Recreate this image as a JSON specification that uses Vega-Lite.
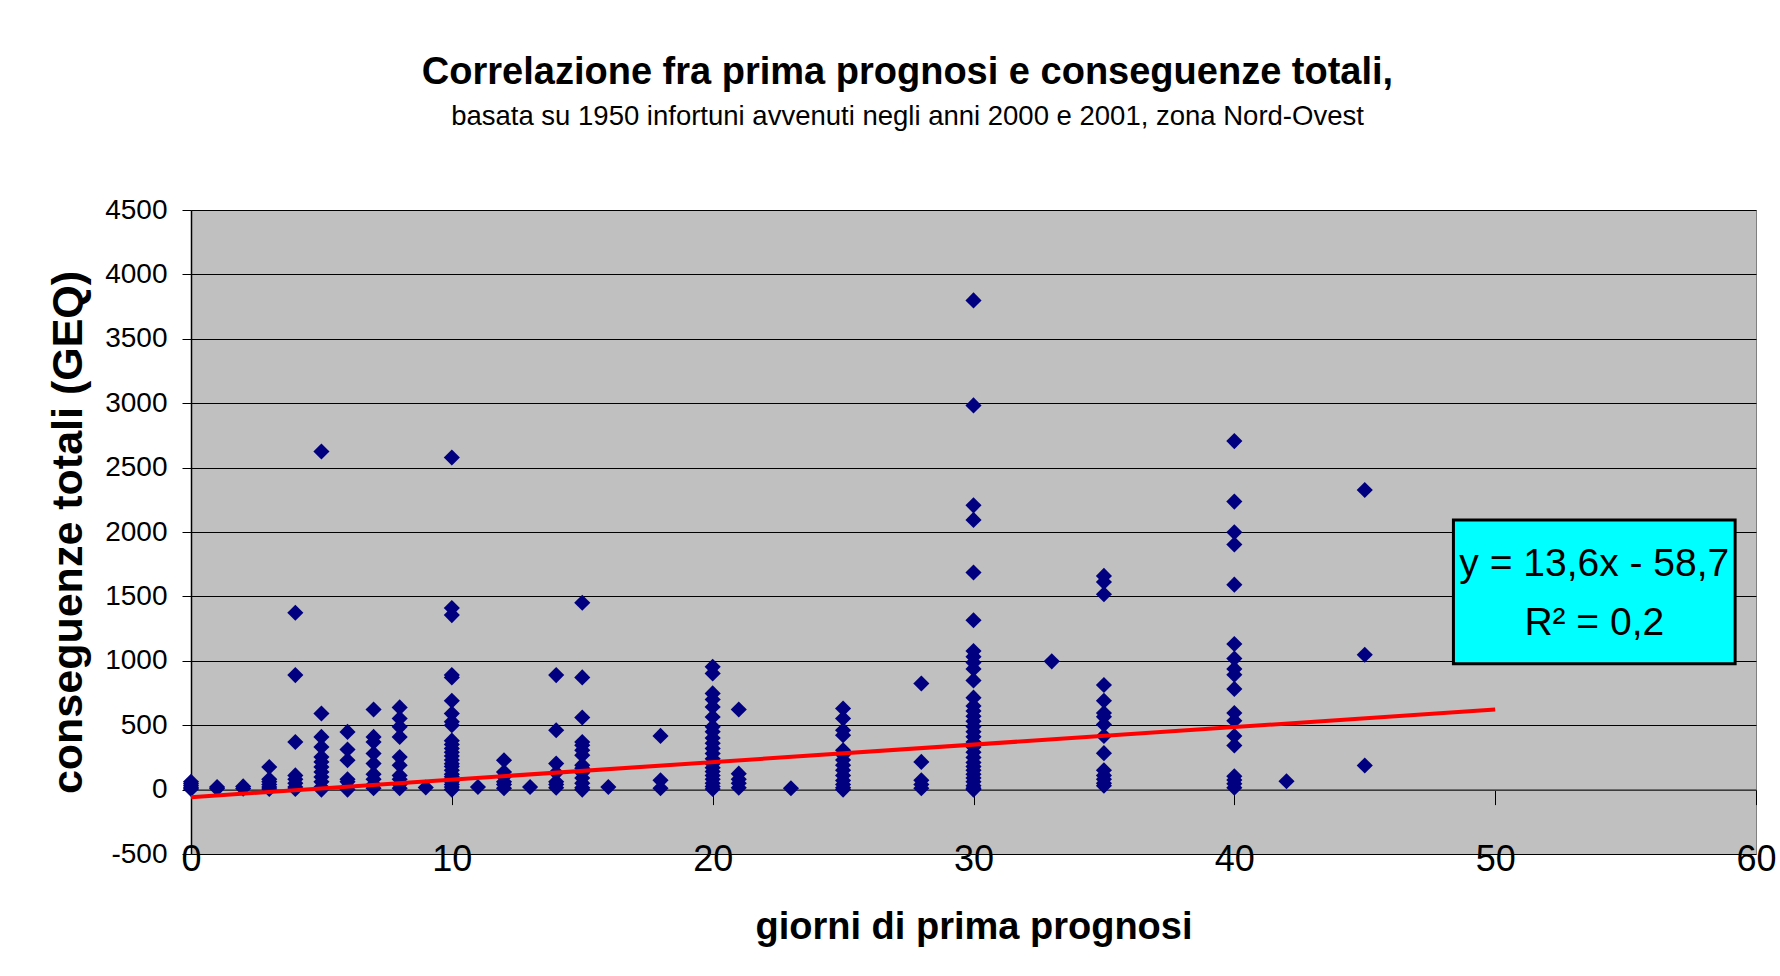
{
  "$schema": "https://vega.github.io/schema/vega-lite/v6.json",
  "width": 1565,
  "height": 644,
  "autosize": {"type": "none"},
  "padding": {"left": 191, "top": 210, "right": 24, "bottom": 122},
  "background": "white",
  "title": {
    "text": "Correlazione fra prima prognosi e conseguenze totali,",
    "subtitle": "basata su 1950 infortuni avvenuti negli anni 2000 e 2001, zona Nord-Ovest",
    "font": "Liberation Sans",
    "fontSize": 38,
    "fontWeight": "bold",
    "color": "black",
    "subtitleFont": "Liberation Sans",
    "subtitleFontSize": 27.5,
    "subtitleColor": "black",
    "subtitlePadding": 11,
    "anchor": "middle",
    "dx": -66,
    "offset": 66
  },
  "config": {
    "view": {"fill": "#c0c0c0", "stroke": "#808080", "strokeWidth": 1},
    "font": "Liberation Sans"
  },
  "datasets": {
    "pts": [
      {"x":0,"y":5},{"x":0,"y":15},{"x":0,"y":30},{"x":0,"y":45},{"x":0,"y":60},
      {"x":1,"y":8},{"x":1,"y":20},
      {"x":2,"y":8},{"x":2,"y":25},
      {"x":3,"y":175},{"x":3,"y":80},{"x":3,"y":60},{"x":3,"y":40},{"x":3,"y":20},{"x":3,"y":5},
      {"x":4,"y":1373},{"x":4,"y":889},{"x":4,"y":370},{"x":4,"y":110},{"x":4,"y":80},{"x":4,"y":50},{"x":4,"y":20},{"x":4,"y":5},
      {"x":5,"y":2625},{"x":5,"y":591},{"x":5,"y":409},{"x":5,"y":331},{"x":5,"y":253},{"x":5,"y":215},{"x":5,"y":176},{"x":5,"y":137},{"x":5,"y":98},{"x":5,"y":60},{"x":5,"y":20},{"x":5,"y":0},
      {"x":6,"y":448},{"x":6,"y":311},{"x":6,"y":228},{"x":6,"y":80},{"x":6,"y":60},{"x":6,"y":20},{"x":6,"y":0},
      {"x":7,"y":622},{"x":7,"y":409},{"x":7,"y":370},{"x":7,"y":280},{"x":7,"y":202},{"x":7,"y":120},{"x":7,"y":80},{"x":7,"y":40},{"x":7,"y":10},
      {"x":8,"y":638},{"x":8,"y":552},{"x":8,"y":487},{"x":8,"y":409},{"x":8,"y":253},{"x":8,"y":189},{"x":8,"y":110},{"x":8,"y":80},{"x":8,"y":40},{"x":8,"y":10},
      {"x":9,"y":16},
      {"x":10,"y":2578},{"x":10,"y":1410},{"x":10,"y":1355},{"x":10,"y":890},{"x":10,"y":870},{"x":10,"y":690},{"x":10,"y":590},{"x":10,"y":526},{"x":10,"y":500},{"x":10,"y":380},{"x":10,"y":350},{"x":10,"y":320},{"x":10,"y":290},{"x":10,"y":260},{"x":10,"y":230},{"x":10,"y":200},{"x":10,"y":180},{"x":10,"y":150},{"x":10,"y":120},{"x":10,"y":100},{"x":10,"y":80},{"x":10,"y":60},{"x":10,"y":40},{"x":10,"y":20},{"x":10,"y":0},
      {"x":11,"y":20},
      {"x":12,"y":228},{"x":12,"y":137},{"x":12,"y":100},{"x":12,"y":60},{"x":12,"y":40},{"x":12,"y":10},
      {"x":13,"y":20},
      {"x":14,"y":889},{"x":14,"y":461},{"x":14,"y":202},{"x":14,"y":130},{"x":14,"y":60},{"x":14,"y":40},{"x":14,"y":15},
      {"x":15,"y":1451},{"x":15,"y":871},{"x":15,"y":560},{"x":15,"y":370},{"x":15,"y":345},{"x":15,"y":306},{"x":15,"y":267},{"x":15,"y":190},{"x":15,"y":165},{"x":15,"y":130},{"x":15,"y":90},{"x":15,"y":50},{"x":15,"y":15},{"x":15,"y":0},
      {"x":16,"y":20},
      {"x":18,"y":417},{"x":18,"y":72},{"x":18,"y":10},
      {"x":20,"y":953},{"x":20,"y":902},{"x":20,"y":747},{"x":20,"y":700},{"x":20,"y":642},{"x":20,"y":564},{"x":20,"y":487},{"x":20,"y":450},{"x":20,"y":400},{"x":20,"y":360},{"x":20,"y":320},{"x":20,"y":280},{"x":20,"y":240},{"x":20,"y":200},{"x":20,"y":170},{"x":20,"y":140},{"x":20,"y":110},{"x":20,"y":80},{"x":20,"y":50},{"x":20,"y":25},{"x":20,"y":5},
      {"x":21,"y":622},{"x":21,"y":124},{"x":21,"y":80},{"x":21,"y":50},{"x":21,"y":15},
      {"x":23,"y":10},
      {"x":25,"y":630},{"x":25,"y":552},{"x":25,"y":461},{"x":25,"y":422},{"x":25,"y":306},{"x":25,"y":270},{"x":25,"y":230},{"x":25,"y":190},{"x":25,"y":150},{"x":25,"y":110},{"x":25,"y":70},{"x":25,"y":40},{"x":25,"y":15},{"x":25,"y":0},
      {"x":28,"y":824},{"x":28,"y":215},{"x":28,"y":72},{"x":28,"y":40},{"x":28,"y":10},
      {"x":30,"y":3798},{"x":30,"y":2983},{"x":30,"y":2207},{"x":30,"y":2094},{"x":30,"y":1686},{"x":30,"y":1315},{"x":30,"y":1076},{"x":30,"y":1032},{"x":30,"y":987},{"x":30,"y":937},{"x":30,"y":848},{"x":30,"y":714},{"x":30,"y":650},{"x":30,"y":610},{"x":30,"y":570},{"x":30,"y":530},{"x":30,"y":490},{"x":30,"y":450},{"x":30,"y":410},{"x":30,"y":370},{"x":30,"y":330},{"x":30,"y":290},{"x":30,"y":250},{"x":30,"y":210},{"x":30,"y":180},{"x":30,"y":150},{"x":30,"y":120},{"x":30,"y":90},{"x":30,"y":60},{"x":30,"y":30},{"x":30,"y":10},{"x":30,"y":0},
      {"x":33,"y":996},
      {"x":35,"y":1659},{"x":35,"y":1612},{"x":35,"y":1517},{"x":35,"y":812},{"x":35,"y":690},{"x":35,"y":595},{"x":35,"y":565},{"x":35,"y":506},{"x":35,"y":416},{"x":35,"y":283},{"x":35,"y":150},{"x":35,"y":110},{"x":35,"y":80},{"x":35,"y":50},{"x":35,"y":30},
      {"x":40,"y":2706},{"x":40,"y":2236},{"x":40,"y":1998},{"x":40,"y":1903},{"x":40,"y":1591},{"x":40,"y":1130},{"x":40,"y":1017},{"x":40,"y":937},{"x":40,"y":892},{"x":40,"y":782},{"x":40,"y":595},{"x":40,"y":535},{"x":40,"y":416},{"x":40,"y":342},{"x":40,"y":104},{"x":40,"y":74},{"x":40,"y":45},{"x":40,"y":15},
      {"x":42,"y":65},
      {"x":45,"y":2326},{"x":45,"y":1047},{"x":45,"y":187}
    ],
    "trend": [{"x": 0, "y": -58.7}, {"x": 50, "y": 621.3}],
    "box": [{"x1": 48.4, "x2": 59.2, "y1": 977, "y2": 2094}],
    "eq": [
      {"x": 53.8, "y": 1755, "label": "y = 13,6x - 58,7"},
      {"x": 53.8, "y": 1290, "label": "R² = 0,2"}
    ]
  },
  "resolve": {"axis": {"x": "independent", "y": "independent"}},
  "layer": [
    {
      "data": {"name": "pts"},
      "mark": {"type": "point", "shape": "diamond", "filled": true, "size": 260, "color": "#000080", "opacity": 1},
      "encoding": {
        "x": {
          "field": "x", "type": "quantitative",
          "scale": {"domain": [0, 60], "nice": false, "zero": false},
          "axis": {
            "orient": "bottom",
            "values": [0, 10, 20, 30, 40, 50, 60],
            "grid": false, "ticks": false, "domain": false,
            "labelFont": "Liberation Sans", "labelFontSize": 36, "labelColor": "black",
            "labelBaseline": "alphabetic", "labelPadding": 16,
            "labelFlush": false, "labelOverlap": false,
            "title": "giorni di prima prognosi",
            "titleFont": "Liberation Sans", "titleFontSize": 38, "titleFontWeight": "bold", "titleColor": "black",
            "titleBaseline": "alphabetic", "titleY": 84
          }
        },
        "y": {
          "field": "y", "type": "quantitative",
          "scale": {"domain": [-500, 4500], "nice": false, "zero": false},
          "axis": {
            "orient": "left",
            "values": [-500, 0, 500, 1000, 1500, 2000, 2500, 3000, 3500, 4000, 4500],
            "labelExpr": "'' + datum.value",
            "grid": true, "gridColor": "black", "gridOpacity": 1, "gridWidth": 1,
            "domain": true, "domainColor": "black", "domainWidth": 1.5,
            "ticks": true, "tickColor": "black", "tickSize": 9, "tickWidth": 1,
            "labelFont": "Liberation Sans", "labelFontSize": 28, "labelColor": "black",
            "labelPadding": 15, "labelOverlap": false, "labelFlush": false,
            "title": "conseguenze totali (GEQ)",
            "titleFont": "Liberation Sans", "titleFontSize": 43, "titleFontWeight": "bold", "titleColor": "black",
            "titleAngle": 270, "titleBaseline": "alphabetic", "titleAlign": "center",
            "titleX": -110, "titleY": 322
          }
        }
      }
    },
    {
      "data": {"name": "trend"},
      "mark": {"type": "line", "color": "#ff0000", "strokeWidth": 4},
      "encoding": {
        "x": {
          "field": "x", "type": "quantitative",
          "scale": {"domain": [0, 60], "nice": false, "zero": false},
          "axis": {
            "orient": "bottom", "offset": -64.4,
            "values": [0, 10, 20, 30, 40, 50, 60],
            "labels": false, "grid": false, "title": null,
            "domain": true, "domainColor": "#505050", "domainWidth": 1.5,
            "ticks": true, "tickColor": "black", "tickSize": 15, "tickWidth": 1
          }
        },
        "y": {"field": "y", "type": "quantitative", "axis": null}
      }
    },
    {
      "data": {"name": "box"},
      "mark": {"type": "rect", "fill": "#00ffff", "stroke": "black", "strokeWidth": 3},
      "encoding": {
        "x": {"field": "x1", "type": "quantitative", "axis": null},
        "x2": {"field": "x2"},
        "y": {"field": "y1", "type": "quantitative", "axis": null},
        "y2": {"field": "y2"}
      }
    },
    {
      "data": {"name": "eq"},
      "mark": {"type": "text", "font": "Liberation Sans", "fontSize": 39, "color": "black", "align": "center", "baseline": "middle"},
      "encoding": {
        "x": {"field": "x", "type": "quantitative", "axis": null},
        "y": {"field": "y", "type": "quantitative", "axis": null},
        "text": {"field": "label"}
      }
    }
  ]
}
